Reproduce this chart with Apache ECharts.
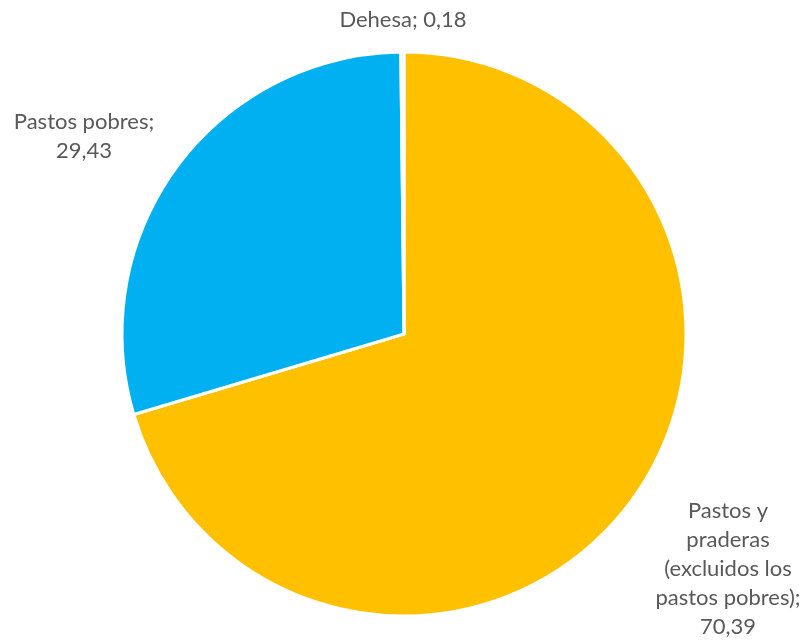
<!DOCTYPE html>
<html>
<head>
<meta charset="utf-8">
<script src="https://cdn.jsdelivr.net/npm/echarts@6/dist/echarts.min.js"></script>
<style>html,body{margin:0;padding:0;background:#fff;}#c{width:809px;height:641px;}</style>
</head>
<body>
<div id="c"></div>
<script>
var categories = ["Pastos y\npraderas\n(excluidos los\npastos pobres)", "Pastos pobres", "Dehesa"];
var values = [70.39, 29.43, 0.18];
var colors = ["#FFC000", "#00B0F0", "#A5A5A5"];
var labelPos = [[728, 569], [84, 136], [403, 20]];

var chart = echarts.init(document.getElementById('c'), null, {renderer: 'canvas'});
chart.setOption({
  animation: false,
  series: [{
    type: 'pie',
    center: [404, 334],
    radius: [0, 282],
    startAngle: 90,
    clockwise: true,
    avoidLabelOverlap: false,
    itemStyle: {borderColor: '#fff', borderWidth: 3},
    label: {
      show: true,
      position: 'outside',
      fontFamily: 'Lato',
      fontSize: 22,
      lineHeight: 29,
      color: '#595959',
      align: 'center',
      formatter: function (p) {
        var v = p.value.toFixed(2).replace('.', ',');
        if (p.dataIndex === 0) return p.name + ';\n' + v;
        if (p.dataIndex === 1) return p.name + ';\n' + v;
        return p.name + '; ' + v;
      }
    },
    labelLine: {show: false},
    labelLayout: function (params) {
      var pos = labelPos[params.dataIndex];
      return {x: pos[0], y: pos[1], align: 'center', verticalAlign: 'middle'};
    },
    emphasis: {disabled: true},
    data: categories.map(function (c, i) {
      return {name: c, value: values[i], itemStyle: {color: colors[i]}};
    })
  }]
});
</script>
</body>
</html>
